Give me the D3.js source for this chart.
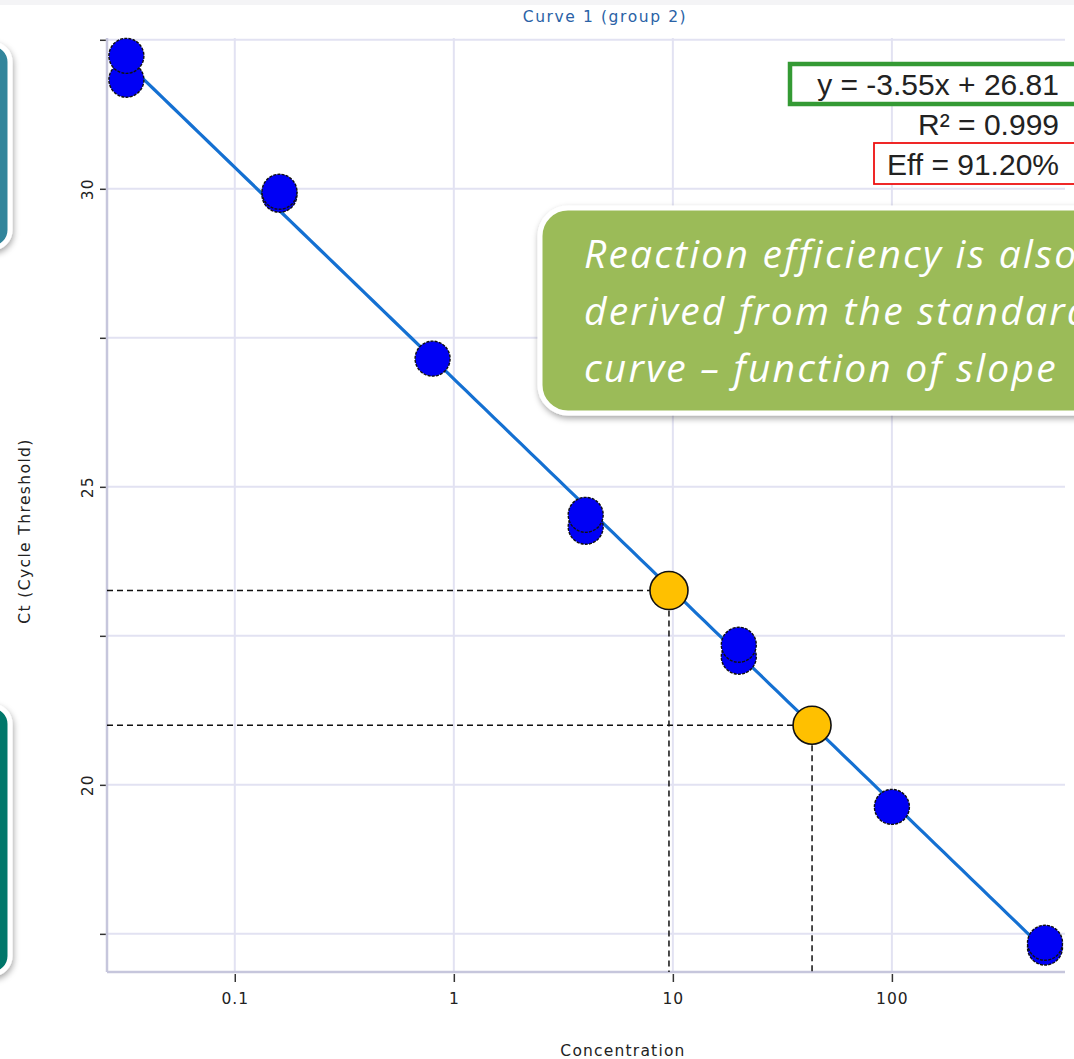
<!DOCTYPE html>
<html>
<head>
<meta charset="utf-8">
<script src="https://cdn.jsdelivr.net/npm/d3@7"></script>
<style>
  html, body { margin: 0; padding: 0; background: #ffffff; }
  svg { display: block; }
</style>
</head>
<body>
<svg id="chart" width="1074" height="1059"></svg>
<script>
// Standard curve: replicate wells (concentration vs. cycle threshold)
const concentrations = [0.032, 0.032, 0.16, 0.16, 0.8, 4, 4, 20, 20, 100, 500, 500];
const ctValues       = [31.83, 32.23, 29.90, 29.95, 27.15, 24.33, 24.53, 22.15, 22.35, 19.63, 17.27, 17.35];

// Unknown samples read back off the curve
const unknownConc = [9.6, 43.2];
const unknownCt   = [23.26, 21.0];

// Regression of Ct on log10(concentration)
const fitSlope = -3.55;
const fitIntercept = 26.81;
const fitLabels = ["y = -3.55x + 26.81", "R\u00B2 = 0.999", "Eff = 91.20%"];

// Axis ticks
const xTickValues = [0.1, 1, 10, 100];
const xTickLabels = ["0.1", "1", "10", "100"];
const yTickValues = [17.5, 20, 22.5, 25, 27.5, 30, 32.5];
const yTickLabels = ["", "20", "", "25", "", "30", ""];

const calloutLines = [
  "Reaction efficiency is also",
  "derived from the standard",
  "curve \u2013 function of slope"
];

const svg = d3.select("#chart");
const smallFont = "DejaVu Sans, sans-serif";
const smallSize = "15.5px";

const defs = svg.append("defs");
const shadow = defs.append("filter").attr("id", "shadow")
  .attr("x", "-10%").attr("y", "-10%").attr("width", "130%").attr("height", "140%");
shadow.append("feDropShadow").attr("dx", 1).attr("dy", 3).attr("stdDeviation", 3)
  .attr("flood-color", "#000").attr("flood-opacity", 0.35);

// Faint page strip at the top edge
svg.append("rect").attr("x", 0).attr("y", 0).attr("width", 1074).attr("height", 5).attr("fill", "#f4f4f6");

// Plot frame
const plot = { left: 107, right: 1065, top: 38, bottom: 972 };

const x = d3.scaleLog().domain([0.0261, 617]).range([plot.left, plot.right]);
const y = d3.scaleLinear().domain([16.86, 32.53]).range([plot.bottom, plot.top]);

// Grid
const grid = svg.append("g");
grid.selectAll("line.vx").data(xTickValues).join("line")
  .attr("x1", d => x(d)).attr("x2", d => x(d))
  .attr("y1", plot.top).attr("y2", plot.bottom)
  .attr("stroke", "#e2e2f2").attr("stroke-width", 2);
grid.selectAll("line.hy").data(yTickValues).join("line")
  .attr("x1", plot.left).attr("x2", plot.right)
  .attr("y1", d => y(d)).attr("y2", d => y(d))
  .attr("stroke", "#e2e2f2").attr("stroke-width", 2);

// Axes
const xAxis = d3.axisBottom(x).tickValues(xTickValues)
  .tickFormat((d, i) => xTickLabels[i]).tickSize(8).tickPadding(11);
const gx = svg.append("g").attr("transform", `translate(0,${plot.bottom + 2})`).call(xAxis);
gx.attr("font-size", null).attr("font-family", null);
gx.select(".domain").remove();
gx.selectAll(".tick line").attr("stroke", "#333").attr("stroke-width", 1.5);
gx.selectAll(".tick text").attr("font-family", smallFont)
  .style("font-size", smallSize).attr("fill", "#222").attr("letter-spacing", 1);

const yAxis = d3.axisLeft(y).tickValues(yTickValues)
  .tickFormat((d, i) => yTickLabels[i]).tickSize(6).tickPadding(4);
const gy = svg.append("g").attr("transform", `translate(${plot.left - 1},0)`).call(yAxis);
gy.attr("font-size", null).attr("font-family", null);
gy.select(".domain").remove();
gy.selectAll(".tick line").attr("stroke", "#333").attr("stroke-width", 1.5);
gy.selectAll(".tick text")
  .attr("font-family", smallFont).style("font-size", smallSize).attr("fill", "#222")
  .attr("letter-spacing", 1)
  .attr("text-anchor", "middle").attr("dy", null)
  .attr("transform", "translate(-18,0) rotate(-90)")
  .attr("x", 0).attr("y", 5);

// Frame lines (left and bottom)
svg.append("line").attr("x1", plot.left).attr("x2", plot.left)
  .attr("y1", plot.top).attr("y2", plot.bottom)
  .attr("stroke", "#c6c6dc").attr("stroke-width", 2.5);
svg.append("line").attr("x1", plot.left).attr("x2", plot.right)
  .attr("y1", plot.bottom).attr("y2", plot.bottom)
  .attr("stroke", "#c6c6dc").attr("stroke-width", 2.5);

// Titles
svg.append("text").attr("x", 605).attr("y", 22).attr("text-anchor", "middle")
  .attr("font-family", smallFont).style("font-size", smallSize)
  .attr("letter-spacing", 1.6).attr("fill", "#2a62a6").text("Curve 1 (group 2)");
svg.append("text").attr("x", 623).attr("y", 1056).attr("text-anchor", "middle")
  .attr("font-family", smallFont).style("font-size", smallSize)
  .attr("letter-spacing", 1.2).attr("fill", "#222").text("Concentration");
svg.append("text").attr("transform", "translate(30,531) rotate(-90)").attr("text-anchor", "middle")
  .attr("font-family", smallFont).style("font-size", smallSize)
  .attr("letter-spacing", 1.4).attr("fill", "#222").text("Ct (Cycle Threshold)");

// Dashed read-off guides for the unknowns
const guides = svg.append("g").attr("stroke", "#111").attr("stroke-width", 1.5)
  .attr("stroke-dasharray", "6,4");
unknownConc.forEach((c, i) => {
  guides.append("line").attr("x1", plot.left).attr("x2", x(c))
    .attr("y1", y(unknownCt[i])).attr("y2", y(unknownCt[i]));
  guides.append("line").attr("x1", x(c)).attr("x2", x(c))
    .attr("y1", y(unknownCt[i])).attr("y2", plot.bottom);
});

// Fitted line across the standards
const xMin = d3.min(concentrations), xMax = d3.max(concentrations);
const fitPts = d3.range(0, 101).map(k => {
  const lc = Math.log10(xMin) + (Math.log10(xMax) - Math.log10(xMin)) * k / 100;
  return [Math.pow(10, lc), fitSlope * lc + fitIntercept];
});
svg.append("path").datum(fitPts)
  .attr("d", d3.line().x(d => x(d[0])).y(d => y(d[1])))
  .attr("fill", "none").attr("stroke", "#1470d2").attr("stroke-width", 3.2);

// Standards
svg.append("g").selectAll("circle").data(concentrations.map((c, i) => [c, ctValues[i]]))
  .join("circle")
  .attr("cx", d => x(d[0])).attr("cy", d => y(d[1])).attr("r", 17.5)
  .attr("fill", "#0000f5").attr("stroke", "#111").attr("stroke-width", 1.4)
  .attr("stroke-dasharray", "3,1.2");

// Unknowns
svg.append("g").selectAll("circle").data(unknownConc.map((c, i) => [c, unknownCt[i]]))
  .join("circle")
  .attr("cx", d => x(d[0])).attr("cy", d => y(d[1])).attr("r", 19)
  .attr("fill", "#ffc000").attr("stroke", "#111").attr("stroke-width", 1.6);

// Fit summary
const eqFont = "Liberation Sans, Arial, sans-serif";
svg.append("rect").attr("x", 790).attr("y", 64).attr("width", 300).attr("height", 40)
  .attr("fill", "#fff").attr("stroke", "#349a34").attr("stroke-width", 4.5);
svg.append("rect").attr("x", 874).attr("y", 143).attr("width", 220).attr("height", 41)
  .attr("fill", "#fff").attr("stroke", "#ee1111").attr("stroke-width", 1.8);
const eqY = [95, 135, 175];
fitLabels.forEach((t, i) => {
  svg.append("text").attr("x", 1059).attr("y", eqY[i]).attr("text-anchor", "end")
    .attr("font-family", eqFont).style("font-size", "30px").attr("fill", "#222").text(t);
});

// Callout (runs off the right edge of the slide)
const callout = svg.append("g");
callout.append("rect").attr("x", 540).attr("y", 208).attr("width", 600).attr("height", 205)
  .attr("rx", 28).attr("fill", "#9bbb59").attr("stroke", "#ffffff").attr("stroke-width", 5)
  .attr("filter", "url(#shadow)");
calloutLines.forEach((t, i) => {
  callout.append("text").attr("x", 584).attr("y", 268 + i * 57)
    .attr("font-family", "Open Sans, sans-serif").attr("font-style", "italic")
    .style("font-size", "39px").attr("letter-spacing", 2.2).attr("fill", "#ffffff").text(t);
});

// Side panels peeking in at the left edge
const sides = [
  { y: 44, h: 204, fill: "#31859b" },
  { y: 706, h: 268, fill: "#00776b" }
];
sides.forEach(s => {
  svg.append("rect").attr("x", -60).attr("y", s.y).attr("width", 70).attr("height", s.h)
    .attr("rx", 18).attr("fill", s.fill).attr("stroke", "#ffffff").attr("stroke-width", 5)
    .attr("filter", "url(#shadow)");
});
</script>
</body>
</html>
